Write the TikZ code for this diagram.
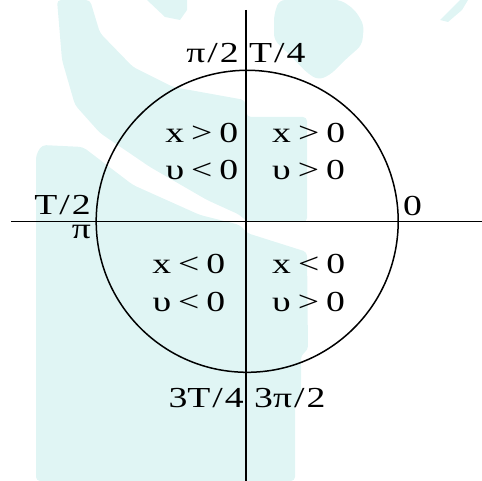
\documentclass[tikz,border=0pt]{standalone}
\usepackage{fontspec}
\setmainfont{Liberation Serif}
\newfontfamily\wf[FakeStretch=1.3]{Liberation Serif}
\definecolor{wm}{RGB}{224,245,244}
\newcommand{\rel}[3]{#1\kern7pt#2\kern7pt#3}
\begin{document}
\begin{tikzpicture}[x=1pt,y=-1pt,
  lbl/.style={inner sep=0pt,font=\wf\fontsize{29}{33}\selectfont},
  axis/.style={line width=1.6pt},
  circ/.style={line width=1.5pt}]
\useasboundingbox (0,0) rectangle (482,481);
% watermark
\fill[wm,rounded corners=4pt] (57,0) -- (90,0) -- (100,33) -- (133,67) -- (173,87) -- (245,100) -- (247,117) -- (307,117) -- (307,222) -- (247,222) -- (240,215) -- (207,200) -- (150,167) -- (100,133) -- (75,105) -- (62,60) -- cycle;
\fill[wm,rounded corners=4pt] (36,481) -- (36,155) -- (42,145) -- (83,147) -- (133,185) -- (200,215) -- (240,225) -- (247,233) -- (307,252) -- (308,350) -- (301,355) -- (301,400) -- (295,405) -- (295,481) -- cycle;
\fill[wm,rounded corners=6pt] (279,0) -- (341,0) -- (355,10) -- (364,25) -- (362,45) -- (345,60) -- (330,75) -- (318,80) -- (306,72) -- (290,55) -- (274,40) -- (274,15) -- cycle;
\fill[wm] (147,0) -- (187,0) -- (187,10) -- (180,20) -- (165,17) -- cycle;
\fill[wm] (440,20) -- (455,5) -- (460,0) -- (468,0) -- (462,10) -- (448,22) -- cycle;
% axes and circle
\coordinate (top) at (245.7,10);
\coordinate (bot) at (245.7,481);
\coordinate (lft) at (11,221.7);
\coordinate (rgt) at (482,221.7);
\coordinate (c) at (247.2,221.3);
\draw[axis] (top) -- (bot);
\draw[axis] (lft) -- (rgt);
\draw[circ] (c) circle[radius=151];
% labels
\node[lbl,anchor=base east] (p2) at (239,63) {π\kern2pt/\kern2pt2};
\node[lbl,anchor=base west] (t4) at (249,63) {T\kern2pt/\kern2pt4};
\node[lbl,anchor=base east] (q2a) at (238.5,143) {\rel{x}{>}{0}};
\node[lbl,anchor=base east] (q2b) at (238.5,180) {\rel{υ}{<}{0}};
\node[lbl,anchor=base west] (q1a) at (272,143) {\rel{x}{>}{0}};
\node[lbl,anchor=base west] (q1b) at (272,180) {\rel{υ}{>}{0}};
\node[lbl,anchor=base east] (q3a) at (225.5,273) {\rel{x}{<}{0}};
\node[lbl,anchor=base east] (q3b) at (225.5,311) {\rel{υ}{<}{0}};
\node[lbl,anchor=base west] (q4a) at (272,273) {\rel{x}{<}{0}};
\node[lbl,anchor=base west] (q4b) at (272,311) {\rel{υ}{>}{0}};
\node[lbl,anchor=base west] (z) at (403,216) {0};
\node[lbl,anchor=base east] (t2) at (91,215) {T\kern2pt/\kern2pt2};
\node[lbl,anchor=base east] (pi) at (91,239) {π};
\node[lbl,anchor=base east] (t34) at (244,407) {3T\kern2pt/\kern2pt4};
\node[lbl,anchor=base west] (p32) at (254,407) {3π\kern2pt/\kern2pt2};
\end{tikzpicture}
\end{document}
